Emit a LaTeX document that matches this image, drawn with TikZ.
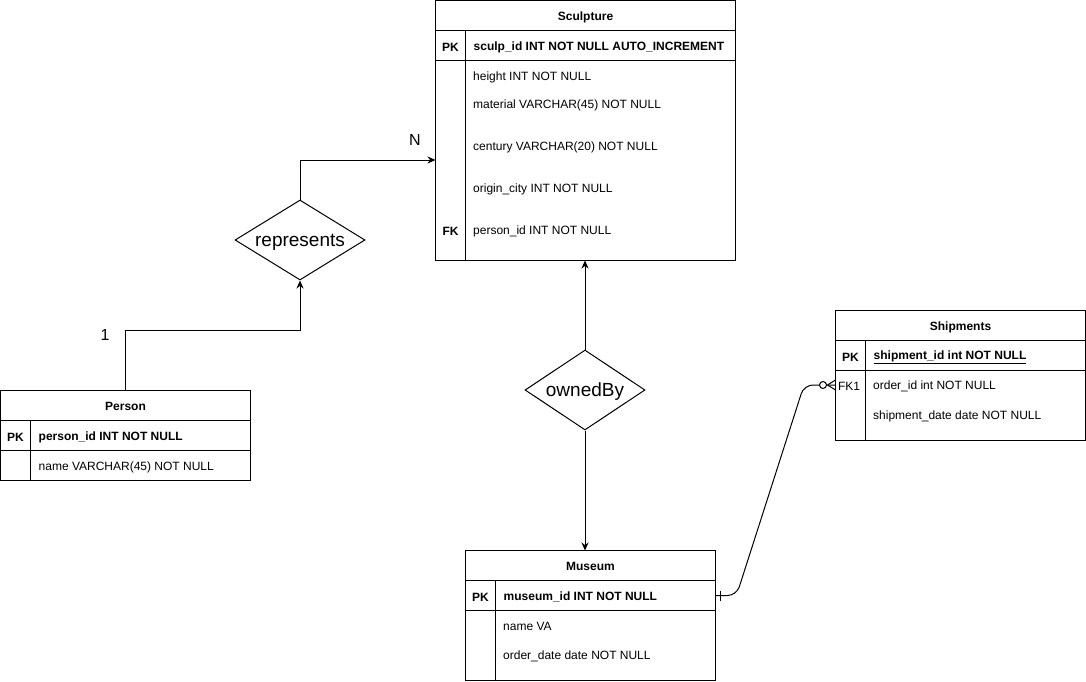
\documentclass[tikz,border=0pt]{standalone}
\usepackage{fontspec}
\setmainfont{Liberation Sans}
\usetikzlibrary{arrows.meta, positioning, shapes.geometric, calc}
\tikzset{
  tbl/.style  = {draw, rectangle, line width=1pt, inner sep=0pt, outer sep=0pt,
                 anchor=north west},
  hdr/.style  = {tbl, minimum height=30pt, text height=10.5pt, text depth=1pt,
                 font=\bfseries\fontsize{12}{14}\selectfont},
  pkrow/.style = {tbl, minimum height=30pt},
  fld/.style  = {anchor=west, inner sep=0pt, yshift=-1.5pt,
                 font=\fontsize{12}{14}\selectfont},
  keyf/.style = {fld, font=\bfseries\fontsize{12}{14}\selectfont},
  klbl/.style = {inner sep=0pt, yshift=-1.5pt, font=\bfseries\fontsize{12}{14}\selectfont},
  rel/.style  = {draw, diamond, line width=1pt, inner sep=0pt,
                 minimum height=80pt},
  rtxt/.style = {inner sep=0pt, yshift=-2pt, font=\fontsize{19}{22}\selectfont},
  arr/.style  = {-{Stealth[length=8pt, width=7pt]}, line width=1pt},
  lnk/.style  = {line width=1pt},
  card/.style = {font=\fontsize{16}{19}\selectfont}
}

\begin{document}
\begin{tikzpicture}[x=1pt, y=-1pt]
  \useasboundingbox (0,0) rectangle (1086,682);

  % ── Sculpture ─────────────────────────────────────────────────────────────
  \node[hdr,   minimum width=300pt]                        (sculp)     at (435.5,0.5) {Sculpture};
  \node[pkrow, minimum width=300pt, below=0pt of sculp]   (sculpPK)   {};
  \node[tbl,   minimum width=300pt, minimum height=200pt,
               below=0pt of sculpPK]                       (sculpBody) {};
  \draw[lnk] ($(sculpPK.north west)+(30,0)$) -- ($(sculpBody.south west)+(30,0)$);
  \node[klbl] (sculpPKk)  at ($(sculpPK.west)+(15,0)$)  {PK};
  \node[keyf] (sculpId)   at ($(sculpPK.west)+(38,0)$)  {sculp\_id INT NOT NULL AUTO\_INCREMENT};
  \node[fld]  (sculpH)    at (473,76)  {height INT NOT NULL};
  \node[fld]  (sculpM)    at (473,104) {material VARCHAR(45) NOT NULL};
  \node[fld]  (sculpC)    at (473,146) {century VARCHAR(20) NOT NULL};
  \node[fld]  (sculpO)    at (473,188) {origin\_city INT NOT NULL};
  \node[klbl] (sculpFKk)  at (450.5,230) {FK};
  \node[fld]  (sculpP)    at (473,230) {person\_id INT NOT NULL};

  % ── Shipments ─────────────────────────────────────────────────────────────
  \node[hdr,   minimum width=250pt]                        (ship)      at (835.5,310.5) {Shipments};
  \node[pkrow, minimum width=250pt, below=0pt of ship]    (shipPK)    {};
  \node[tbl,   minimum width=250pt, minimum height=70pt,
               below=0pt of shipPK]                        (shipBody)  {};
  \draw[lnk] ($(shipPK.north west)+(30,0)$) -- ($(shipBody.south west)+(30,0)$);
  \node[klbl] (shipPKk)   at ($(shipPK.west)+(15,0)$)   {PK};
  \node[keyf] (shipId)    at ($(shipPK.west)+(38,0)$)   {\underline{shipment\_id int NOT NULL}};
  \node[klbl, font=\fontsize{12}{14}\selectfont] (shipFKk) at (849,385) {FK1};
  \node[fld]  (shipO)     at (873,385) {order\_id int NOT NULL};
  \node[fld]  (shipD)     at (873,415) {shipment\_date date NOT NULL};

  % ── Person ────────────────────────────────────────────────────────────────
  \node[hdr,   minimum width=250pt]                        (pers)      at (0.5,390.5) {Person};
  \node[pkrow, minimum width=250pt, below=0pt of pers]    (persPK)    {};
  \node[tbl,   minimum width=250pt, minimum height=30pt,
               below=0pt of persPK]                        (persBody)  {};
  \draw[lnk] ($(persPK.north west)+(30,0)$) -- ($(persBody.south west)+(30,0)$);
  \node[klbl] (persPKk)   at ($(persPK.west)+(15,0)$)   {PK};
  \node[keyf] (persId)    at ($(persPK.west)+(38,0)$)   {person\_id INT NOT NULL};
  \node[fld]  (persN)     at ($(persBody.west)+(38,0)$) {name VARCHAR(45) NOT NULL};

  % ── Museum ────────────────────────────────────────────────────────────────
  \node[hdr,   minimum width=250pt]                        (mus)       at (465.5,550.5) {Museum};
  \node[pkrow, minimum width=250pt, below=0pt of mus]     (musPK)     {};
  \node[tbl,   minimum width=250pt, minimum height=70pt,
               below=0pt of musPK]                         (musBody)   {};
  \draw[lnk] ($(musPK.north west)+(30,0)$) -- ($(musBody.south west)+(30,0)$);
  \node[klbl] (musPKk)    at ($(musPK.west)+(15,0)$)    {PK};
  \node[keyf] (musId)     at ($(musPK.west)+(38,0)$)    {museum\_id INT NOT NULL};
  \node[fld]  (musN)      at (503,625) {name VA};
  \node[fld]  (musD)      at (503,655) {order\_date date NOT NULL};

  % ── Relationships ─────────────────────────────────────────────────────────
  \node[rel, minimum width=130pt,
        label={[rtxt]center:represents}] (repr)  at (300,240) {};
  \node[rel, minimum width=120pt,
        label={[rtxt]center:ownedBy}]    (owned) at (585,390) {};

  \coordinate (sculpIn) at (435.5,160);
  \coordinate (shipIn)  at (835.5,385);

  % ── Connections ───────────────────────────────────────────────────────────
  \draw[arr] (pers.north) -- ++(0,-60) -| (repr.south);
  \node[card] (cardOne) at (105,335) {1};
  \draw[arr] (repr.north) |- (sculpIn);
  \node[card] (cardN)   at (415,140) {N};

  \draw[arr] (owned.north) -- (owned.north |- sculpBody.south);
  \draw[arr] (owned.south) -- (owned.south |- mus.north);

  % museum 1 -- 0..N shipments
  \draw[lnk, rounded corners=9pt] (musPK.east) -- ++(21,0)
        -- ($(shipIn)+(-31.5,0)$) -- (shipIn);
  \draw[lnk] ($(musPK.east)+(5,-5)$) -- ($(musPK.east)+(5,5)$);
  \draw[lnk, fill=white] ($(shipIn)+(-12.5,0)$) circle (3.5);
  \draw[lnk] ($(shipIn)+(-8,0)$) -- ($(shipIn)+(0,-5)$)
             ($(shipIn)+(-8,0)$) -- ($(shipIn)+(0,5)$);

\end{tikzpicture}
\end{document}
